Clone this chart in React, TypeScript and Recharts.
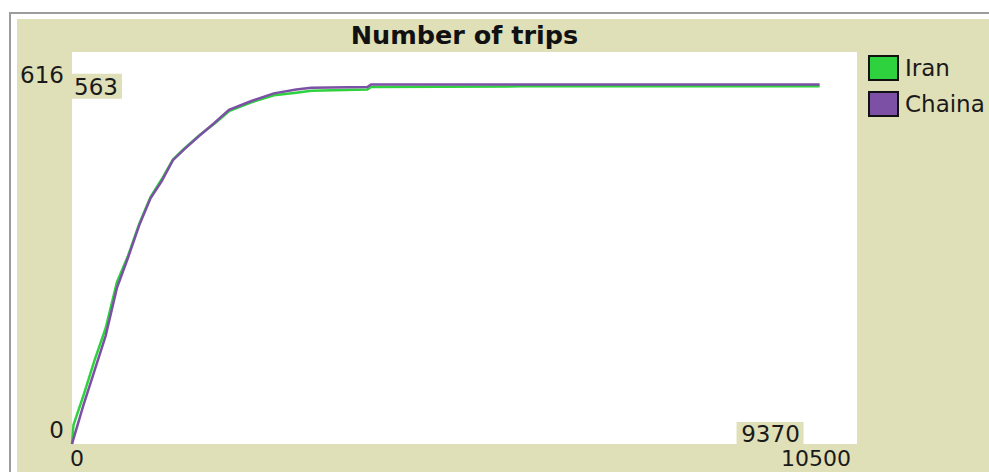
import React from 'react';
import { LineChart, Line, XAxis, YAxis, ReferenceDot } from 'recharts';

// ticks sampled along the run
const ticks = [0, 20, 150, 300, 450, 600, 750, 900, 1050, 1200, 1350, 1500, 1700, 1900, 2100, 2400, 2700, 3000, 3200, 3950, 4000, 6000, 8000, 10000];
const iranTrips = [0, 30, 75, 131, 182, 254, 296, 346, 388, 416, 447, 464, 485, 503, 523, 537, 548, 552, 555, 557, 561, 562, 562, 562];
const chainaTrips = [0, 8, 60, 115, 170, 245, 293, 344, 386, 413, 446, 463, 484, 504, 525, 539, 551, 557, 560, 561, 565, 565, 565, 565];

const xTicks = [0, 10500];
const yTicks = [0, 616];
const hoverX = 9370;
const hoverY = 563;

const data = ticks.map((t, i) => ({ tick: t, Iran: iranTrips[i], Chaina: chainaTrips[i] }));

const colors = {
  bg: '#dfdfb8',
  iran: '#2ed13e',
  chaina: '#7c50a4',
  text: '#1a1a1a',
  border: '#9c9c9c'
};

const font = '"DejaVu Sans", Tahoma, sans-serif';

const YTick = (props: any) => {
  const { y, payload } = props;
  const top = payload.value !== 0;
  return (
    <text x={47} y={top ? y + 31 : y - 6} textAnchor="end" fontSize={23} fontFamily={font} fill={colors.text}>
      {payload.value}
    </text>
  );
};

const XTick = (props: any) => {
  const { x, payload } = props;
  const first = payload.value === 0;
  return (
    <text x={first ? x - 2 : x - 6} y={447} textAnchor={first ? 'start' : 'end'} fontSize={22} fontFamily={font} fill={colors.text}>
      {payload.value}
    </text>
  );
};

const legendItems = [
  { name: 'Iran', color: colors.iran },
  { name: 'Chaina', color: colors.chaina }
];

const App: React.FC = () => {
  return (
    <div style={{ position: 'absolute', left: 0, top: 0, width: 989, height: 472, background: '#fff', overflow: 'hidden' }}>
      <div style={{ position: 'absolute', left: 9, top: 12, width: 1000, height: 480, borderLeft: `2px solid ${colors.border}`, borderTop: `2px solid ${colors.border}` }} />
      <div style={{ position: 'absolute', left: 17, top: 19, width: 972, height: 453, background: colors.bg }}>
        <div style={{ position: 'absolute', left: 55, width: 785, top: 2, textAlign: 'center', fontFamily: font, fontWeight: 'bold', fontSize: 25.5, lineHeight: '28px', color: '#111' }}>
          Number of trips
        </div>
        {/* legend */}
        <div style={{ position: 'absolute', left: 851, top: 31, fontFamily: font, fontSize: 23, color: colors.text, whiteSpace: 'nowrap' }}>
          {legendItems.map(it => (
            <div key={it.name} style={{ display: 'flex', alignItems: 'center', height: 36 }}>
              <span style={{ width: 27, height: 22, background: it.color, border: '2px solid #111', display: 'inline-block', marginRight: 6 }} />
              <span>{it.name}</span>
            </div>
          ))}
        </div>
        <LineChart width={972} height={453} data={data} margin={{ top: 33, right: 132, left: 0, bottom: 0 }} style={{ position: 'absolute', left: 0, top: 0 }}>
          <rect x={55} y={33} width={785} height={392} fill="#fff" />
          <XAxis dataKey="tick" type="number" domain={[0, 10500]} ticks={xTicks} height={28} axisLine={false} tickLine={false} tick={<XTick />} interval={0} />
          <YAxis type="number" domain={[0, 616]} ticks={yTicks} width={55} axisLine={false} tickLine={false} tick={<YTick />} interval={0} />
          <Line type="linear" dataKey="Iran" stroke={colors.iran} strokeWidth={2.5} dot={false} isAnimationActive={false} />
          <Line type="linear" dataKey="Chaina" stroke={colors.chaina} strokeWidth={2.5} dot={false} isAnimationActive={false} />
          <ReferenceDot x={0} y={hoverY} r={0} ifOverflow="visible" shape={(p: any) => (
            <g>
              <rect x={p.cx} y={p.cy - 12} width={50} height={25} fill={colors.bg} />
              <text x={p.cx + 2} y={p.cy + 9} fontSize={23} fontFamily={font} fill={colors.text}>{hoverY}</text>
            </g>
          )} />
          <ReferenceDot x={hoverX} y={0} r={0} ifOverflow="visible" shape={(p: any) => (
            <g>
              <rect x={p.cx - 36} y={p.cy - 22} width={67} height={22} fill={colors.bg} />
              <text x={p.cx - 2} y={p.cy - 2} textAnchor="middle" fontSize={23} fontFamily={font} fill={colors.text}>{hoverX}</text>
            </g>
          )} />
        </LineChart>
      </div>
    </div>
  );
};

export default App;
